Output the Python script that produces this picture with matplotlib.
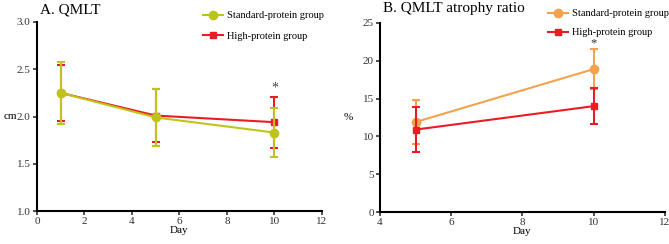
import matplotlib.pyplot as plt
from matplotlib.lines import Line2D

plt.rcParams['font.family'] = ['Liberation Serif', 'DejaVu Serif']

# Panel A: QMLT (cm)
days_a = [1, 5, 10]
std_a = [2.25, 1.99, 1.83]
std_a_err = [0.33, 0.30, 0.26]
high_a = [2.25, 2.01, 1.94]
high_a_err = [0.30, 0.28, 0.27]

# Panel B: QMLT atrophy ratio (%)
days_b = [5, 10]
std_b = [11.9, 18.9]
std_b_err = [2.85, 2.6]
high_b = [10.9, 14.0]
high_b_err = [3.0, 2.4]

green = '#bfc41c'
orange = '#f5a24c'
red = '#ec1c24'

fig = plt.figure(figsize=(6.69, 2.44), dpi=100)
axA = fig.add_axes([0.0553, 0.135, 0.426, 0.775])
axB = fig.add_axes([0.568, 0.131, 0.426, 0.775])


def style(ax):
    for s in ['top', 'right']:
        ax.spines[s].set_visible(False)
    for s in ['left', 'bottom']:
        ax.spines[s].set_linewidth(1.5)
    ax.tick_params(width=1.2, length=3, labelsize=8, pad=1.5, colors='#333333', labelcolor='#333333')


def handles(std_color):
    return [Line2D([], [], color=std_color, marker='o', ms=6, lw=1.5),
            Line2D([], [], color=red, marker='s', ms=5, lw=1.5)]


labels = ['Standard-protein group', 'High-protein group']

# ---- A ----
axA.errorbar(days_a, high_a, yerr=high_a_err, color=red, marker='s', ms=5,
             lw=1.5, capsize=3, capthick=1.5, elinewidth=1.5, zorder=2)
axA.errorbar(days_a, std_a, yerr=std_a_err, color=green, marker='o', ms=6,
             lw=1.5, capsize=3, capthick=1.5, elinewidth=1.5, zorder=3)
axA.set_xlim(0, 12)
axA.set_ylim(1.0, 3.0)
axA.set_xticks([0, 2, 4, 6, 8, 10, 12])
axA.set_yticks([1.0, 1.5, 2.0, 2.5, 3.0])
axA.set_yticklabels(['1.0', '1.5', '2.0', '2.5', '3.0'])
style(axA)
axA.set_xlabel('Day', fontsize=8, labelpad=0)
axA.set_ylabel('cm', fontsize=8, rotation=0, labelpad=5, va='center')
axA.text(10, high_a[2] + high_a_err[2] + 0.02, '*', ha='center', va='bottom', fontsize=10, color='#444444')
fig.legend(handles(green), labels, loc='upper left', bbox_to_anchor=(203 / 669, 1 - 11 / 244),
           frameon=False, fontsize=7.5, handlelength=1.9, labelspacing=1.05, handletextpad=0.45,
           borderpad=0, borderaxespad=0)
fig.text(0.06, 0.985, 'A. QMLT', fontsize=11, va='top', ha='left')

# ---- B ----
axB.errorbar(days_b, std_b, yerr=std_b_err, color=orange, marker='o', ms=6,
             lw=1.5, capsize=3, capthick=1.5, elinewidth=1.5, zorder=2)
axB.errorbar(days_b, high_b, yerr=high_b_err, color=red, marker='s', ms=5,
             lw=1.5, capsize=3, capthick=1.5, elinewidth=1.5, zorder=3)
axB.set_xlim(4, 12)
axB.set_ylim(0, 25)
axB.set_xticks([4, 6, 8, 10, 12])
axB.set_yticks([0, 5, 10, 15, 20, 25])
style(axB)
axB.set_xlabel('Day', fontsize=8, labelpad=0)
axB.set_ylabel('%', fontsize=8, rotation=0, labelpad=10, va='center')
axB.text(10, std_b[1] + std_b_err[1], '*', ha='center', va='bottom', fontsize=9, color='#333333')
fig.legend(handles(orange), labels, loc='upper left', bbox_to_anchor=(548 / 669, 1 - 9 / 244),
           frameon=False, fontsize=7.5, handlelength=1.9, labelspacing=0.95, handletextpad=0.45,
           borderpad=0, borderaxespad=0)
fig.text(383 / 669, 0.99, 'B. QMLT atrophy ratio', fontsize=11, va='top', ha='left')

fig.savefig('out.png', dpi=100)
